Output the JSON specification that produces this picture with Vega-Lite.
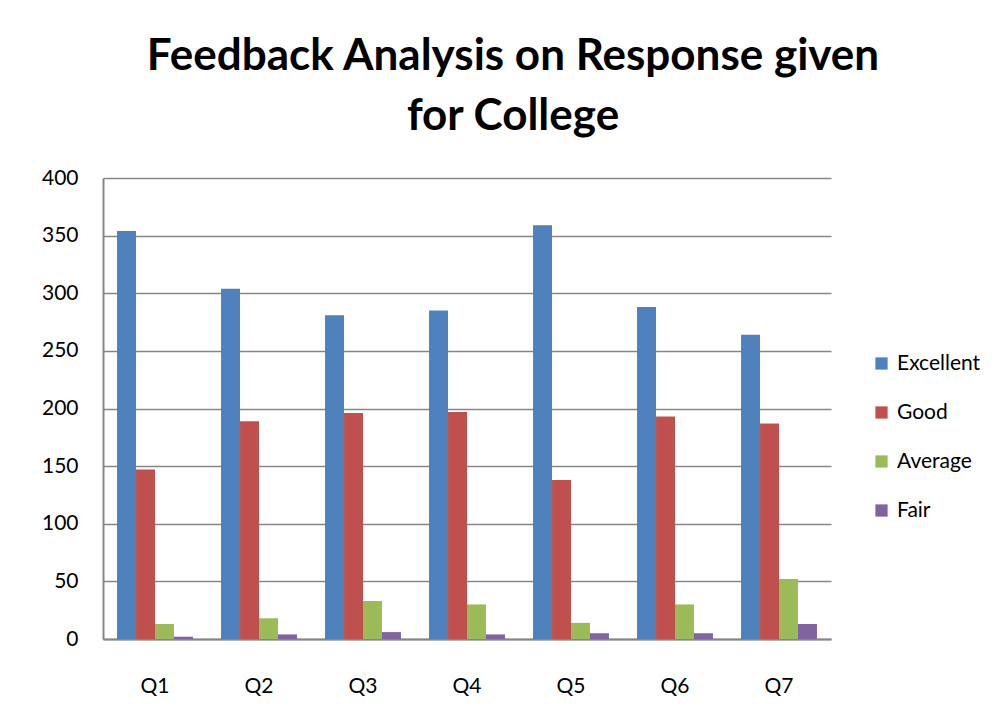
{
  "$schema": "https://vega.github.io/schema/vega-lite/v6.json",
  "autosize": "none",
  "width": 728,
  "height": 461,
  "padding": {"left": 103, "top": 178, "right": 177, "bottom": 83},
  "background": "white",
  "title": {
    "text": ["Feedback Analysis on Response given", "for College"],
    "fontSize": 44,
    "font": "Lato",
    "fontWeight": "bold",
    "color": "#000000",
    "lineHeight": 60,
    "anchor": "middle",
    "dx": 46,
    "offset": 28
  },
  "data": {
    "values": [
      {"q": "Q1", "rating": "Excellent", "count": 354},
      {"q": "Q1", "rating": "Good", "count": 147},
      {"q": "Q1", "rating": "Average", "count": 13},
      {"q": "Q1", "rating": "Fair", "count": 2},
      {"q": "Q2", "rating": "Excellent", "count": 304},
      {"q": "Q2", "rating": "Good", "count": 189},
      {"q": "Q2", "rating": "Average", "count": 18},
      {"q": "Q2", "rating": "Fair", "count": 4},
      {"q": "Q3", "rating": "Excellent", "count": 281},
      {"q": "Q3", "rating": "Good", "count": 196},
      {"q": "Q3", "rating": "Average", "count": 33},
      {"q": "Q3", "rating": "Fair", "count": 6},
      {"q": "Q4", "rating": "Excellent", "count": 285},
      {"q": "Q4", "rating": "Good", "count": 197},
      {"q": "Q4", "rating": "Average", "count": 30},
      {"q": "Q4", "rating": "Fair", "count": 4},
      {"q": "Q5", "rating": "Excellent", "count": 359},
      {"q": "Q5", "rating": "Good", "count": 138},
      {"q": "Q5", "rating": "Average", "count": 14},
      {"q": "Q5", "rating": "Fair", "count": 5},
      {"q": "Q6", "rating": "Excellent", "count": 288},
      {"q": "Q6", "rating": "Good", "count": 193},
      {"q": "Q6", "rating": "Average", "count": 30},
      {"q": "Q6", "rating": "Fair", "count": 5},
      {"q": "Q7", "rating": "Excellent", "count": 264},
      {"q": "Q7", "rating": "Good", "count": 187},
      {"q": "Q7", "rating": "Average", "count": 52},
      {"q": "Q7", "rating": "Fair", "count": 13}
    ]
  },
  "mark": {"type": "bar"},
  "encoding": {
    "x": {
      "field": "q",
      "type": "nominal",
      "scale": {"paddingInner": 0.27, "paddingOuter": 0.135},
      "axis": {
        "title": null,
        "labelAngle": 0,
        "labelFont": "Lato",
        "labelFontSize": 21,
        "labelColor": "#000000",
        "labelPadding": 36,
        "ticks": false,
        "domainColor": "#868686",
        "domainWidth": 2
      }
    },
    "xOffset": {
      "field": "rating",
      "type": "nominal",
      "sort": ["Excellent", "Good", "Average", "Fair"],
      "scale": {"paddingInner": 0, "paddingOuter": 0}
    },
    "y": {
      "field": "count",
      "type": "quantitative",
      "scale": {"domain": [0, 400]},
      "axis": {
        "title": null,
        "values": [0, 50, 100, 150, 200, 250, 300, 350, 400],
        "labelFont": "Lato",
        "labelFontSize": 21,
        "labelColor": "#000000",
        "labelPadding": 25,
        "ticks": false,
        "grid": true,
        "gridColor": "#878787",
        "gridWidth": 1.5,
        "domainColor": "#868686",
        "domainWidth": 2
      }
    },
    "color": {
      "field": "rating",
      "type": "nominal",
      "sort": ["Excellent", "Good", "Average", "Fair"],
      "scale": {
        "domain": ["Excellent", "Good", "Average", "Fair"],
        "range": ["#4F81BD", "#C0504D", "#9BBB59", "#8064A2"]
      },
      "legend": {
        "title": null,
        "orient": "none",
        "legendX": 768,
        "legendY": 175,
        "symbolType": "square",
        "symbolSize": 150,
        "symbolStrokeWidth": 0,
        "symbolOpacity": 1,
        "labelFont": "Lato",
        "labelFontSize": 21,
        "labelColor": "#000000",
        "labelOffset": 5,
        "rowPadding": 27
      }
    }
  },
  "config": {"view": {"stroke": null}}
}
